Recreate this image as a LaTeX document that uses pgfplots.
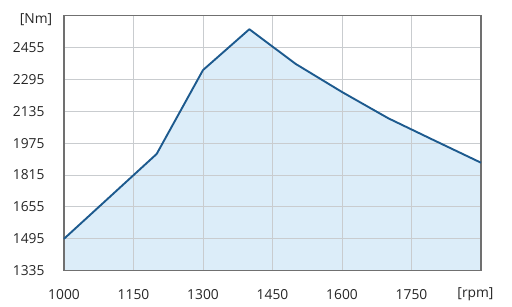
\documentclass[border=0pt]{standalone}
\usepackage{pgfplots}
\pgfplotsset{compat=1.18}
\usepackage{fontspec}
\setmainfont{Open Sans}
\definecolor{linec}{HTML}{1D5A8E}
\definecolor{fillc}{HTML}{DCEDF9}
\definecolor{gridc}{HTML}{C9CCCF}
\definecolor{framec}{HTML}{707070}
\begin{document}
\begin{tikzpicture}
\path (0,0) rectangle (512pt,307pt);
\begin{axis}[
  set layers,
  at={(64pt,36.3pt)}, anchor=south west,
  scale only axis, width=417pt, height=255pt,
  xmin=1000, xmax=1900, ymin=1335, ymax=2615,
  xtick={1000,1150,1300,1450,1600,1750},
  ytick={1335,1495,1655,1815,1975,2135,2295,2455},
  grid=major,
  major grid style={gridc, line width=0.9pt},
  major tick length=0pt,
  axis line style={framec, line width=1.6pt},
  tick label style={font=\fontsize{13.8}{15}\selectfont, text=black!85},
  /pgf/number format/assume math mode=true,
  /pgf/number format/1000 sep={},
  xticklabel style={anchor=center, yshift=-24.3pt},
  yticklabel style={anchor=east, xshift=-16pt},
  clip=false,
]
\addplot[on layer=axis background, fill=fillc, draw=none] coordinates {
 (1000,1495) (1200,1921) (1300,2342) (1400,2547) (1500,2373) (1600,2232) (1700,2100) (1800,1988) (1900,1877)
} \closedcycle;
\addplot[linec, line width=1.9pt, line join=round] coordinates {
 (1000,1495) (1200,1921) (1300,2342) (1400,2547) (1500,2373) (1600,2232) (1700,2100) (1800,1988) (1900,1877)
};
\end{axis}
\node[font=\fontsize{13.8}{15}\selectfont, text=black!85, inner sep=0pt] at (36pt,287pt) {[Nm]};
\node[font=\fontsize{13.8}{15}\selectfont, text=black!85, inner sep=0pt] at (475.5pt,13pt) {[rpm]};
\end{tikzpicture}
\end{document}
